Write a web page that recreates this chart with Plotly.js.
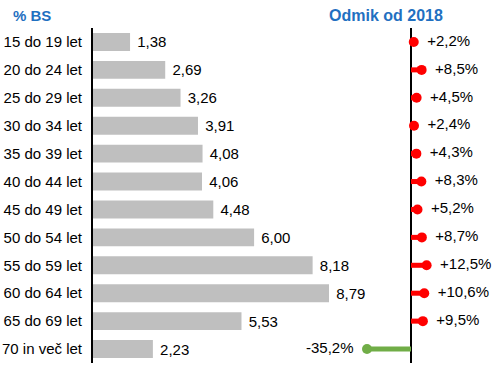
<!DOCTYPE html>
<html>
<head>
<meta charset="utf-8">
<script src="https://cdn.plot.ly/plotly-3.0.1.min.js"></script>
<style>html,body{margin:0;padding:0;background:#fff;}#chart{width:498px;height:370px;}</style>
</head>
<body>
<div id="chart"></div>
<script>
const categories = ['15 do 19 let', '20 do 24 let', '25 do 29 let', '30 do 34 let', '35 do 39 let', '40 do 44 let', '45 do 49 let', '50 do 54 let', '55 do 59 let', '60 do 64 let', '65 do 69 let', '70 in več let'];
const shares = [1.38, 2.69, 3.26, 3.91, 4.08, 4.06, 4.48, 6.00, 8.18, 8.79, 5.53, 2.23];
const changes = [2.2, 8.5, 4.5, 2.4, 4.3, 8.3, 5.2, 8.7, 12.5, 10.6, 9.5, -35.2];
const leftTitle = '% BS';
const rightTitle = 'Odmik od 2018';

const FONT = 'Liberation Sans, Arial, sans-serif';
const W = 498, H = 370;
const fmt = (v, d) => v.toFixed(d).replace('.', ',');
const shareText = shares.map(v => '\u00a0' + fmt(v, 2));
const changeText = changes.map(v => (v > 0 ? '+' : '') + fmt(v, 1) + '%');
const changeColors = changes.map(v => v >= 0 ? '#FF0000' : '#70AD47');
const changePos = changes.map(v => v >= 0 ? 'middle right' : 'middle left');

const traces = [
  {
    type: 'bar', orientation: 'h', y: categories, x: shares,
    xaxis: 'x', yaxis: 'y', width: 0.64,
    marker: {color: '#BFBFBF'},
    text: shareText, textposition: 'outside', cliponaxis: false,
    textfont: {family: FONT, size: 15, color: '#000'},
    hoverinfo: 'none'
  },
  {
    type: 'bar', orientation: 'h', y: categories, x: changes,
    xaxis: 'x2', yaxis: 'y', width: 0.18,
    marker: {color: changeColors},
    hoverinfo: 'none'
  },
  {
    type: 'scatter', mode: 'markers', y: categories, x: changes,
    xaxis: 'x2', yaxis: 'y',
    marker: {color: changeColors, size: 10},
    cliponaxis: false, hoverinfo: 'none'
  },
  {
    type: 'scatter', mode: 'markers+text', y: categories, x: changes,
    xaxis: 'x2', yaxis: 'y',
    marker: {color: 'rgba(0,0,0,0)', size: 20},
    text: changeText, textposition: changePos, cliponaxis: false,
    textfont: {family: FONT, size: 15, color: '#000'},
    hoverinfo: 'none'
  }
];

const x1Start = 93 / W, x1End = 400 / W;
const x2Start = 340 / W, x2End = 1;
const layout = {
  width: W, height: H,
  margin: {l: 0, r: 0, t: 0, b: 0},
  paper_bgcolor: '#fff', plot_bgcolor: 'rgba(0,0,0,0)',
  showlegend: false,
  font: {family: FONT, size: 15, color: '#000'},
  xaxis: {domain: [x1Start, x1End], range: [0, 307 / 26.85], showgrid: false, zeroline: false,
          showticklabels: false, ticks: '', fixedrange: true},
  xaxis2: {domain: [x2Start, x2End], range: [-71 / 1.25, 87 / 1.25], showgrid: false,
           zeroline: true, zerolinecolor: '#000', zerolinewidth: 2,
           showticklabels: false, ticks: '', anchor: 'y', fixedrange: true},
  yaxis: {type: 'category', categoryorder: 'array', categoryarray: categories,
          range: [11.5, -0.5], domain: [1 - 363 / H, 1 - 28 / H],
          showline: true, linecolor: '#000', linewidth: 2, showgrid: false, zeroline: false,
          ticks: '', ticklabelstandoff: 6, anchor: 'x',
          tickfont: {family: FONT, size: 15, color: '#000'}, fixedrange: true},
  annotations: [
    {text: leftTitle, xref: 'paper', yref: 'paper', x: 32 / W, y: 1 - 15 / H,
     xanchor: 'center', yanchor: 'middle', showarrow: false,
     font: {family: FONT, size: 15, color: '#1F70C1', weight: 'bold'}},
    {text: rightTitle, xref: 'paper', yref: 'paper', x: 386 / W, y: 1 - 15 / H,
     xanchor: 'center', yanchor: 'middle', showarrow: false,
     font: {family: FONT, size: 16, color: '#1F70C1', weight: 'bold'}}
  ]
};

Plotly.newPlot('chart', traces, layout, {displayModeBar: false, staticPlot: true});
</script>
</body>
</html>
